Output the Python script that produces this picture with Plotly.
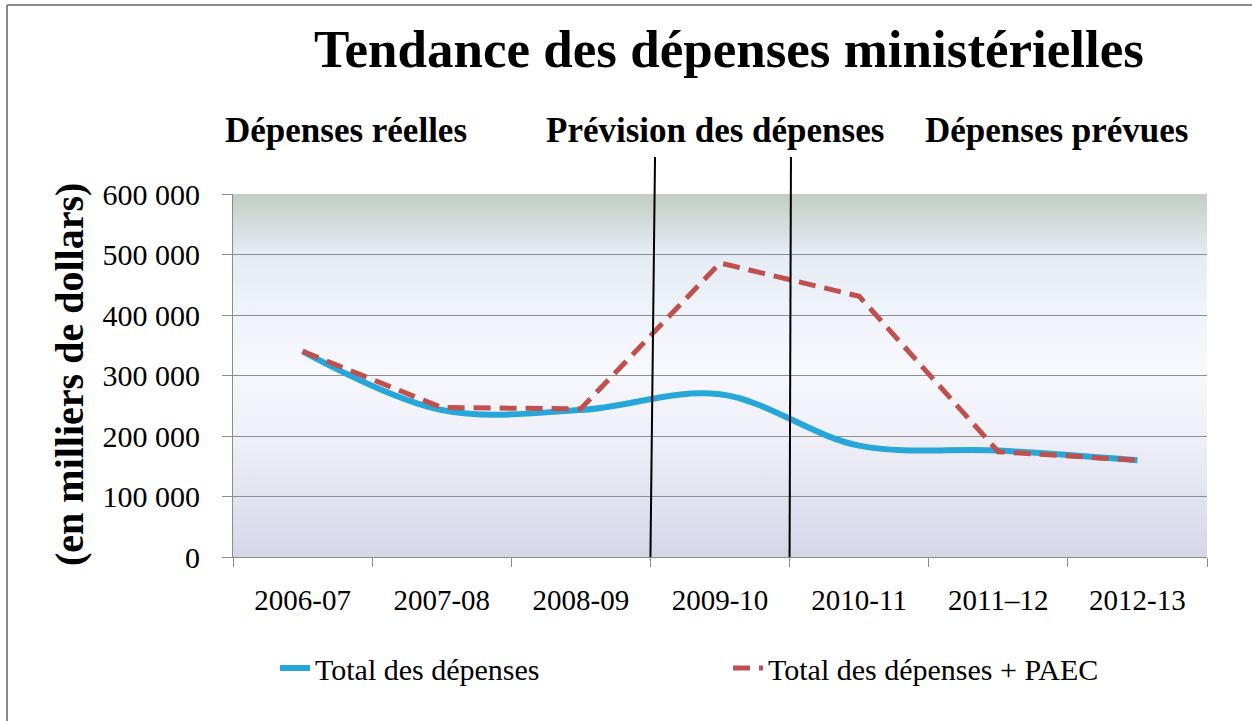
import base64
import plotly.graph_objects as go

# ---------------- data ----------------
categories = ["2006-07", "2007-08", "2008-09", "2009-10", "2010-11", "2011\u201312", "2012-13"]
total_depenses = [340000, 243000, 243000, 269000, 184000, 176000, 160000]
total_depenses_paec = [340000, 247000, 245000, 486000, 431000, 174000, 160000]
y_tickvals = [0, 100000, 200000, 300000, 400000, 500000, 600000]
y_ticktext = ["0", "100 000", "200 000", "300 000", "400 000", "500 000", "600 000"]
section_labels = ["D\u00e9penses r\u00e9elles", "Pr\u00e9vision des d\u00e9penses", "D\u00e9penses pr\u00e9vues"]
series_names = ["Total des d\u00e9penses", "Total des d\u00e9penses + PAEC"]
title_text = "Tendance des d\u00e9penses minist\u00e9rielles"
ytitle_text = "(en milliers de dollars)"

# ---------------- geometry (pixels) ----------------
W, H = 1252, 721
L, R, T, B = 233, 1207, 194, 557
pw, ph = R - L, B - T


def px_x(x):
    return (x - L) / pw


def px_y(y):
    return (B - y) / ph


FONT = "Liberation Serif, Times New Roman, serif"

fig = go.Figure()
fig.add_trace(go.Scatter(
    x=categories, y=total_depenses, name=series_names[0], mode="lines",
    line=dict(color="#27A6D9", width=6, shape="spline", smoothing=1.0),
))
fig.add_trace(go.Scatter(
    x=categories, y=total_depenses_paec, name=series_names[1], mode="lines",
    line=dict(color="#C0504D", width=5, dash="17px,9px"),
))

# background gradient of the plot area
svg = (
    '<svg xmlns="http://www.w3.org/2000/svg" width="100" height="100" viewBox="0 0 100 100" '
    'preserveAspectRatio="none"><defs><linearGradient id="g" x1="0" y1="0" x2="0" y2="1">'
    '<stop offset="0" stop-color="#C2CEC3"/>'
    '<stop offset="0.08" stop-color="#D2DCDB"/>'
    '<stop offset="0.16" stop-color="#E4EBF4"/>'
    '<stop offset="0.30" stop-color="#EEF2F9"/>'
    '<stop offset="0.48" stop-color="#F7F8FC"/>'
    '<stop offset="0.65" stop-color="#F0F1F8"/>'
    '<stop offset="1" stop-color="#D5D7E9"/>'
    '</linearGradient></defs><rect width="100" height="100" fill="url(#g)"/></svg>'
)
src = "data:image/svg+xml;base64," + base64.b64encode(svg.encode()).decode()
fig.add_layout_image(dict(source=src, xref="paper", yref="paper", x=0, y=1, sizex=1, sizey=1,
                          xanchor="left", yanchor="top", sizing="stretch", layer="below"))

# separator lines
fig.add_shape(type="line", xref="x", yref="paper", x0=2.5, y0=0, x1=2.533, y1=px_y(157),
              line=dict(color="black", width=2))
fig.add_shape(type="line", xref="x", yref="paper", x0=3.5, y0=0, x1=3.51, y1=px_y(157),
              line=dict(color="black", width=2))

# outer frame (left + top visible)
fig.add_shape(type="line", xref="paper", yref="paper", x0=px_x(7), y0=px_y(5), x1=px_x(7), y1=px_y(730),
              line=dict(color="#8A8A8A", width=2))
fig.add_shape(type="line", xref="paper", yref="paper", x0=px_x(7), y0=px_y(5), x1=px_x(1260), y1=px_y(5),
              line=dict(color="#8A8A8A", width=2))

# section labels
for txt, cx in zip(section_labels, [346, 715, 1056]):
    fig.add_annotation(text=txt, xref="paper", yref="paper", x=px_x(cx), y=px_y(131),
                       xanchor="center", yanchor="middle", showarrow=False,
                       font=dict(family=FONT, size=35, color="black", weight="bold"))

# y-axis title
fig.add_annotation(text=ytitle_text, xref="paper", yref="paper", x=px_x(69), y=px_y(375),
                   xanchor="center", yanchor="middle", textangle=-90, showarrow=False,
                   font=dict(family=FONT, size=40, color="black", weight="bold"))

fig.update_layout(
    width=W, height=H,
    margin=dict(l=L, r=W - R, t=T, b=H - B, pad=0),
    paper_bgcolor="white", plot_bgcolor="rgba(0,0,0,0)",
    title=dict(text=title_text, x=729 / W, xanchor="center", y=1 - 48 / H, yanchor="middle",
               yref="container", font=dict(family=FONT, size=53, color="black", weight="bold")),
    showlegend=True,
    legend=dict(orientation="h", x=px_x(275), y=px_y(668), xanchor="left", yanchor="middle",
                bgcolor="rgba(0,0,0,0)", font=dict(family=FONT, size=30, color="black"),
                entrywidth=408, entrywidthmode="pixels", traceorder="normal"),
    hovermode=False,
)
fig.update_xaxes(
    type="category", range=[-0.5, 6.5], showgrid=False, showline=True, linecolor="#8C8C8C", linewidth=1,
    ticks="outside", tickson="boundaries", ticklen=9, tickcolor="#8C8C8C",
    tickfont=dict(family=FONT, size=29, color="black"), ticklabelstandoff=17,
)
fig.update_yaxes(
    range=[0, 600000], tickvals=y_tickvals, ticktext=y_ticktext, showgrid=True, gridcolor="#8E8E8E",
    gridwidth=1, showline=True, linecolor="#8C8C8C", linewidth=1, ticks="outside", ticklen=10,
    tickcolor="#8C8C8C", tickfont=dict(family=FONT, size=30, color="black"), ticklabelstandoff=16,
    zeroline=False,
)

fig.write_html("out.html", config={"displayModeBar": False},
               post_script="document.body.style.margin='0';document.body.style.overflow='hidden';")
